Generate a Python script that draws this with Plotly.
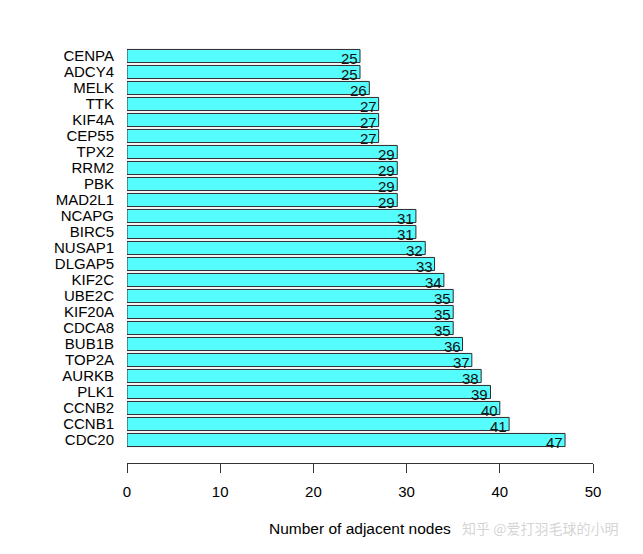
import plotly.graph_objects as go

genes = ["CENPA", "ADCY4", "MELK", "TTK", "KIF4A", "CEP55", "TPX2", "RRM2", "PBK",
         "MAD2L1", "NCAPG", "BIRC5", "NUSAP1", "DLGAP5", "KIF2C", "UBE2C", "KIF20A",
         "CDCA8", "BUB1B", "TOP2A", "AURKB", "PLK1", "CCNB2", "CCNB1", "CDC20"]
counts = [25, 25, 26, 27, 27, 27, 29, 29, 29, 29, 31, 31, 32, 33, 34, 35, 35, 35,
          36, 37, 38, 39, 40, 41, 47]
x_ticks = [0, 10, 20, 30, 40, 50]
x_title = "Number of adjacent nodes"
watermark = "知乎 @爱打羽毛球的小明"

FONT = "Liberation Sans, Arial, Helvetica, sans-serif"

fig = go.Figure()
fig.add_trace(go.Bar(
    x=counts, y=genes, orientation="h",
    width=0.82,
    marker=dict(color="#55FDFD", line=dict(color="#2a2a2a", width=1)),
    hoverinfo="x+y",
))

for g, c in zip(genes, counts):
    fig.add_annotation(x=c, y=g, text=str(c), showarrow=False,
                       xanchor="right", yanchor="middle", xshift=0, yshift=-2,
                       font=dict(family=FONT, size=15, color="#111111"))

fig.add_annotation(xref="paper", yref="paper", x=0.5, y=-0.1537, yanchor="middle",
                   text=x_title, showarrow=False,
                   font=dict(family=FONT, size=15.5, color="#000000"))
fig.add_annotation(xref="paper", yref="paper", x=0.715, y=-0.1537, xanchor="left",
                   yanchor="middle", text=watermark, showarrow=False,
                   font=dict(family="Noto Sans CJK SC", size=14, color="rgba(205,205,205,0.85)"))

fig.update_layout(
    width=643, height=554,
    margin=dict(l=119, r=58, t=32, b=99),
    paper_bgcolor="white", plot_bgcolor="white",
    showlegend=False,
    font=dict(family=FONT, size=15, color="#000000"),
    xaxis=dict(range=[0, 50], tickvals=x_ticks, ticks="outside", ticklen=9,
               tickcolor="#333333", showline=True, linecolor="#333333", linewidth=1,
               showgrid=False, zeroline=False, ticklabelstandoff=6, automargin=False,
               tickfont=dict(family=FONT, size=15, color="#000000")),
    yaxis=dict(type="category", categoryorder="array",
               categoryarray=list(reversed(genes)), range=[-1.4375, 25],
               tickmode="array", tickvals=genes, ticktext=genes,
               showgrid=False, zeroline=False, showline=False, ticks="",
               ticklabelstandoff=12, automargin=False,
               tickfont=dict(family=FONT, size=15, color="#000000")),
)

fig.write_html("out.html")
